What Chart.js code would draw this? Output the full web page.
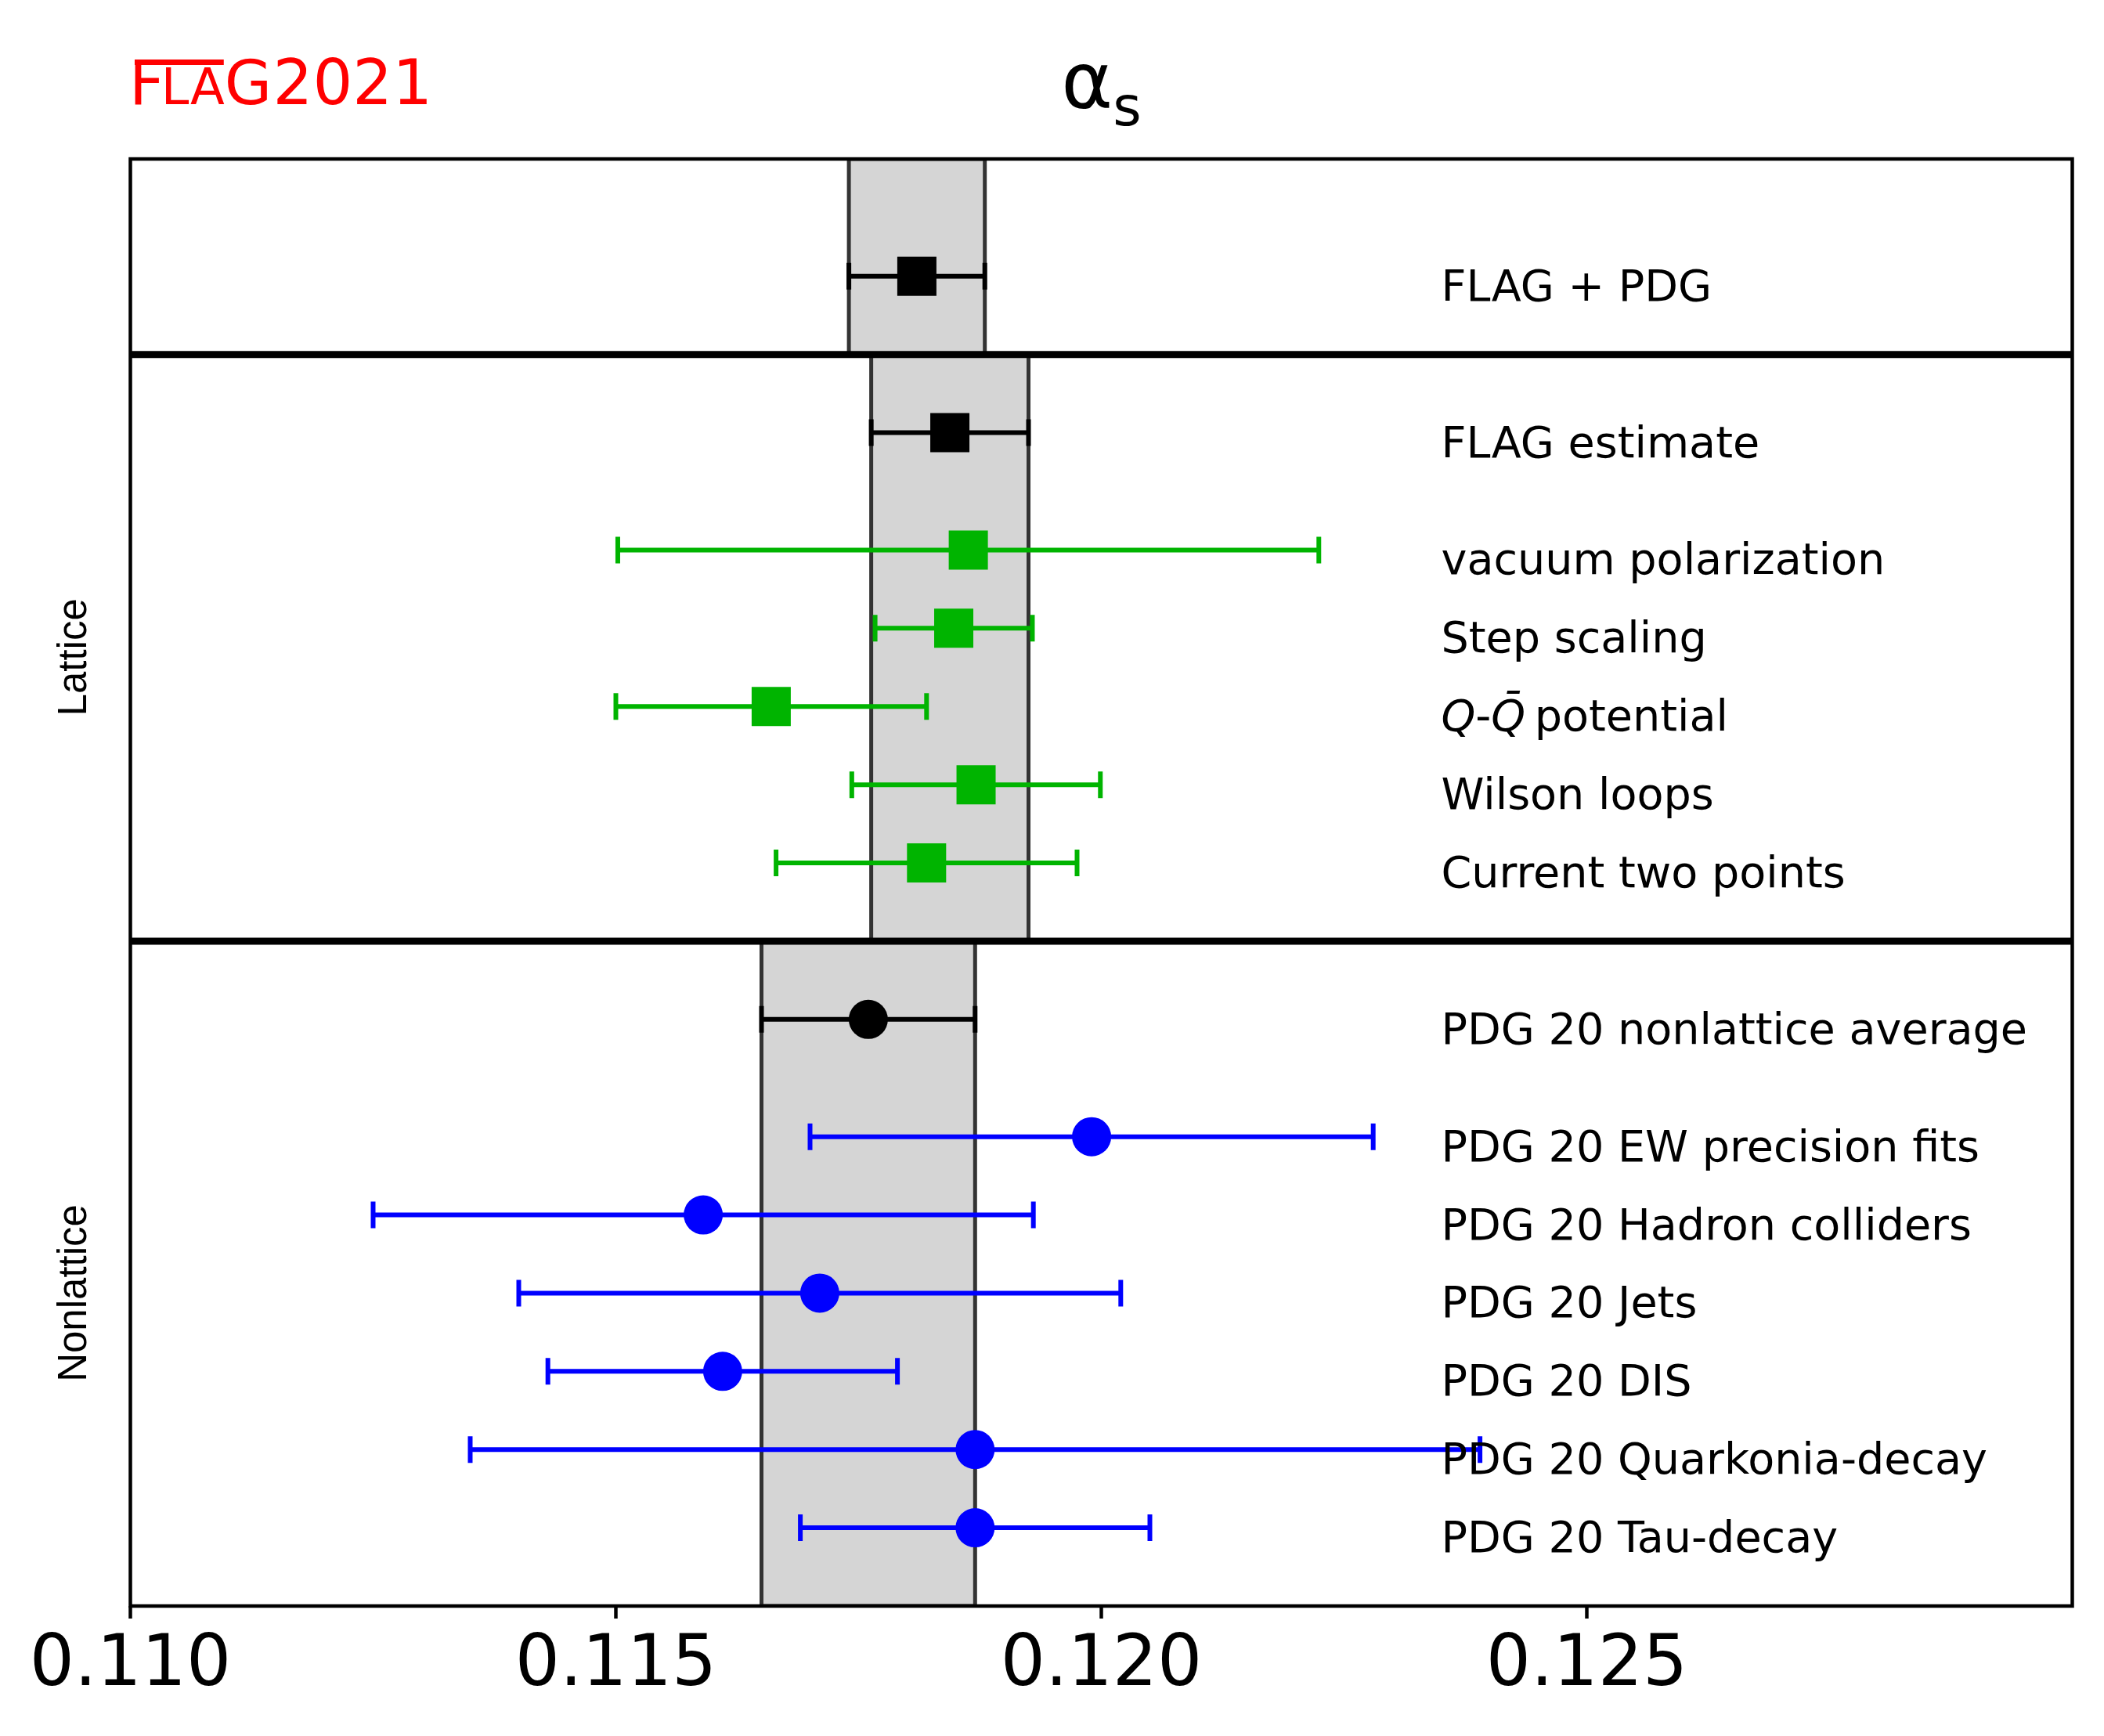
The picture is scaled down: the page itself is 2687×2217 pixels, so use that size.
<!DOCTYPE html>
<html>
<head>
<meta charset="utf-8">
<script src="https://cdn.jsdelivr.net/npm/chart.js@4.4.0/dist/chart.umd.min.js"></script>
<style>
html, body { margin: 0; padding: 0; background: #fff; }
canvas { display: block; }
</style>
</head>
<body>
<canvas id="canvas" width="2687" height="2217" style="width:2687px;height:2217px"></canvas>
<script>
// alpha_s summary, top to bottom
const labels = [
  "FLAG + PDG",
  "FLAG estimate",
  "vacuum polarization",
  "Step scaling",
  "Q-Q\u0304 potential",
  "Wilson loops",
  "Current two points",
  "PDG 20 nonlattice average",
  "PDG 20 EW precision fits",
  "PDG 20 Hadron colliders",
  "PDG 20 Jets",
  "PDG 20 DIS",
  "PDG 20 Quarkonia-decay",
  "PDG 20 Tau-decay"
];
const values = [0.1181, 0.11844, 0.11863, 0.11848, 0.1166, 0.11871, 0.1182,
                0.1176, 0.1199, 0.1159, 0.1171, 0.1161, 0.1187, 0.1187];
const errors = [0.0007, 0.00081, 0.00361, 0.00081, 0.0016, 0.00128, 0.00155,
                0.0011, 0.0029, 0.0034, 0.0031, 0.0018, 0.0052, 0.0018];
// row index on the y axis
const rowPos = [16, 14, 12.5, 11.5, 10.5, 9.5, 8.5, 6.5, 5, 4, 3, 2, 1, 0];
const rowGroup = ["combined", "latticeAvg", "lattice", "lattice", "lattice", "lattice", "lattice",
                  "nonlatticeAvg", "nonlattice", "nonlattice", "nonlattice", "nonlattice", "nonlattice", "nonlattice"];
const xTicks = [0.110, 0.115, 0.120, 0.125];
const sectionNames = ["Lattice", "Nonlattice"];

const xMin = 0.110, xMax = 0.130, yMin = -1, yMax = 17.5;
const labelX = 0.1235;
const green = "rgb(0,180,0)";
const groupStyle = {
  combined:      { color: "#000000", marker: "rect" },
  latticeAvg:    { color: "#000000", marker: "rect" },
  lattice:       { color: green, marker: "rect" },
  nonlatticeAvg: { color: "#000000", marker: "circle" },
  nonlattice:    { color: "#0000ff", marker: "circle" }
};
// band rows and the y range each band spans
const bands = [
  { row: 0, top: 17.5, bottom: 15 },
  { row: 1, top: 15, bottom: 7.5 },
  { row: 7, top: 7.5, bottom: -1 }
];

function rowsOf(groups) {
  const out = [];
  rowGroup.forEach((g, i) => { if (groups.includes(g)) out.push(i); });
  return out;
}

function errorBarData(rows) {
  const d = [];
  rows.forEach(i => {
    d.push({ x: values[i] - errors[i], y: rowPos[i] });
    d.push({ x: values[i] + errors[i], y: rowPos[i] });
    d.push({ x: null, y: null });
  });
  return d;
}

function markerData(rows) {
  return rows.map(i => ({ x: values[i], y: rowPos[i] }));
}

const datasets = [];

bands.forEach(b => {
  const lo = values[b.row] - errors[b.row], hi = values[b.row] + errors[b.row];
  datasets.push({
    type: "line",
    data: [{ x: lo, y: b.bottom }, { x: lo, y: b.top }, { x: hi, y: b.top }, { x: hi, y: b.bottom }, { x: lo, y: b.bottom }],
    borderColor: "#333333",
    borderWidth: 5,
    backgroundColor: "rgb(213,213,213)",
    fill: "shape",
    pointRadius: 0,
    tension: 0,
    clip: 0,
    order: 5
  });
});

// section dividers
datasets.push({
  type: "line",
  data: [{ x: xMin, y: 15 }, { x: xMax, y: 15 }, { x: null, y: null }, { x: xMin, y: 7.5 }, { x: xMax, y: 7.5 }],
  borderColor: "#000",
  borderWidth: 9,
  pointRadius: 0,
  fill: false,
  order: 4
});

const colourSets = [
  { groups: ["combined", "latticeAvg", "nonlatticeAvg"], color: "#000000" },
  { groups: ["lattice"], color: green },
  { groups: ["nonlattice"], color: "#0000ff" }
];
colourSets.forEach(cs => {
  datasets.push({
    type: "line",
    data: errorBarData(rowsOf(cs.groups)),
    borderColor: cs.color,
    borderWidth: 6,
    fill: false,
    spanGaps: false,
    pointStyle: "line",
    pointRotation: 90,
    pointRadius: 17,
    pointHoverRadius: 17,
    pointBorderWidth: 6,
    pointBorderColor: cs.color,
    order: 3
  });
});

Object.keys(groupStyle).forEach(g => {
  const st = groupStyle[g];
  datasets.push({
    type: "scatter",
    data: markerData(rowsOf([g])),
    pointStyle: st.marker,
    pointRadius: st.marker === "rect" ? 25 * Math.SQRT2 : 25,
    pointHoverRadius: st.marker === "rect" ? 25 * Math.SQRT2 : 25,
    pointBackgroundColor: st.color,
    pointBorderWidth: 0,
    order: 1
  });
});

const framePlugin = {
  id: "frame",
  afterDatasetsDraw(chart) {
    const a = chart.chartArea, ctx = chart.ctx;
    ctx.save();
    ctx.strokeStyle = "#000";
    ctx.lineWidth = 4.5;
    ctx.strokeRect(a.left, a.top, a.right - a.left, a.bottom - a.top);
    ctx.restore();
  }
};

const textPlugin = {
  id: "texts",
  afterDraw(chart) {
    const ctx = chart.ctx, xs = chart.scales.x, ys = chart.scales.y, a = chart.chartArea;
    ctx.save();
    ctx.fillStyle = "#000";
    ctx.textBaseline = "alphabetic";
    ctx.textAlign = "left";

    // row labels
    const normal = '55.6px "DejaVu Sans"', italic = 'italic 55.6px "DejaVu Sans"';
    labels.forEach((t, i) => {
      let x = xs.getPixelForValue(labelX);
      const y = ys.getPixelForValue(rowPos[i]) + 31;
      if (t.indexOf("\u0304") >= 0) {
        const parts = [["Q", italic], ["-", normal], ["Q\u0304", italic], [t.slice(t.indexOf("\u0304") + 1), normal]];
        parts.forEach((p, k) => {
          ctx.font = p[1];
          ctx.fillText(p[0], x, y);
          x += ctx.measureText(p[0]).width - (k === 2 ? 6 : 0);
        });
      } else {
        ctx.font = normal;
        ctx.fillText(t, x, y);
      }
    });

    // section names
    ctx.font = '51px "Liberation Sans"';
    ctx.textAlign = "center";
    [[sectionNames[0], 11.13], [sectionNames[1], 3.0]].forEach(s => {
      ctx.save();
      ctx.translate(a.left - 56.5, ys.getPixelForValue(s[1]));
      ctx.rotate(-Math.PI / 2);
      ctx.fillText(s[0], 0, 0);
      ctx.restore();
    });

    // title alpha_s
    ctx.textAlign = "left";
    ctx.font = '100px "DejaVu Sans"';
    const wA = ctx.measureText("\u03b1").width;
    ctx.font = '70px "DejaVu Sans"';
    const wS = ctx.measureText("s").width;
    const cx = (a.left + a.right) / 2;
    let tx = cx - (wA + wS) / 2;
    ctx.font = '100px "DejaVu Sans"';
    ctx.fillText("\u03b1", tx, a.top - 65);
    ctx.font = '70px "DejaVu Sans"';
    ctx.fillText("s", tx + wA, a.top - 43);

    // FLAG 2021 logo
    ctx.fillStyle = "#ff0000";
    const by = a.top - 70;
    let lx = a.left - 1.5;
    const big = '78px "DejaVu Sans"', small = '64px "DejaVu Sans"';
    ctx.font = big;
    ctx.fillText("F", lx, by);
    const fStart = lx + 7;
    lx += ctx.measureText("F").width - 4;
    ctx.font = small;
    ctx.fillText("LA", lx, by);
    lx += ctx.measureText("LA").width;
    const barEnd = lx - 1;
    ctx.fillRect(fStart, by - 57, barEnd - fStart, 7);
    ctx.font = big;
    ctx.fillText("G", lx, by);
    ctx.font = '80px "DejaVu Sans"';
    ctx.fillText("2021", a.left + 182, by);
    ctx.restore();
  }
};

const ctx = document.getElementById("canvas").getContext("2d");
const myChart = new Chart(ctx, {
  type: "scatter",
  data: { datasets: datasets },
  options: {
    responsive: false,
    animation: false,
    devicePixelRatio: 1,
    events: [],
    layout: { padding: { left: 166.5, right: 40.5, top: 203, bottom: 0 } },
    plugins: {
      legend: { display: false },
      tooltip: { enabled: false },
      title: { display: false }
    },
    scales: {
      x: {
        type: "linear",
        min: xMin,
        max: xMax,
        afterBuildTicks: axis => { axis.ticks = xTicks.map(v => ({ value: v })); },
        afterFit: scale => { scale.height = 166; },
        ticks: {
          callback: v => v.toFixed(3),
          color: "#000",
          font: { family: "DejaVu Sans", size: 90 },
          padding: 8,
          maxRotation: 0,
          autoSkip: false
        },
        grid: {
          drawOnChartArea: false,
          drawTicks: true,
          tickLength: 16,
          tickWidth: 4.5,
          tickColor: "#000"
        },
        border: { display: false }
      },
      y: {
        type: "linear",
        min: yMin,
        max: yMax,
        display: false
      }
    }
  },
  plugins: [framePlugin, textPlugin]
});
</script>
</body>
</html>
